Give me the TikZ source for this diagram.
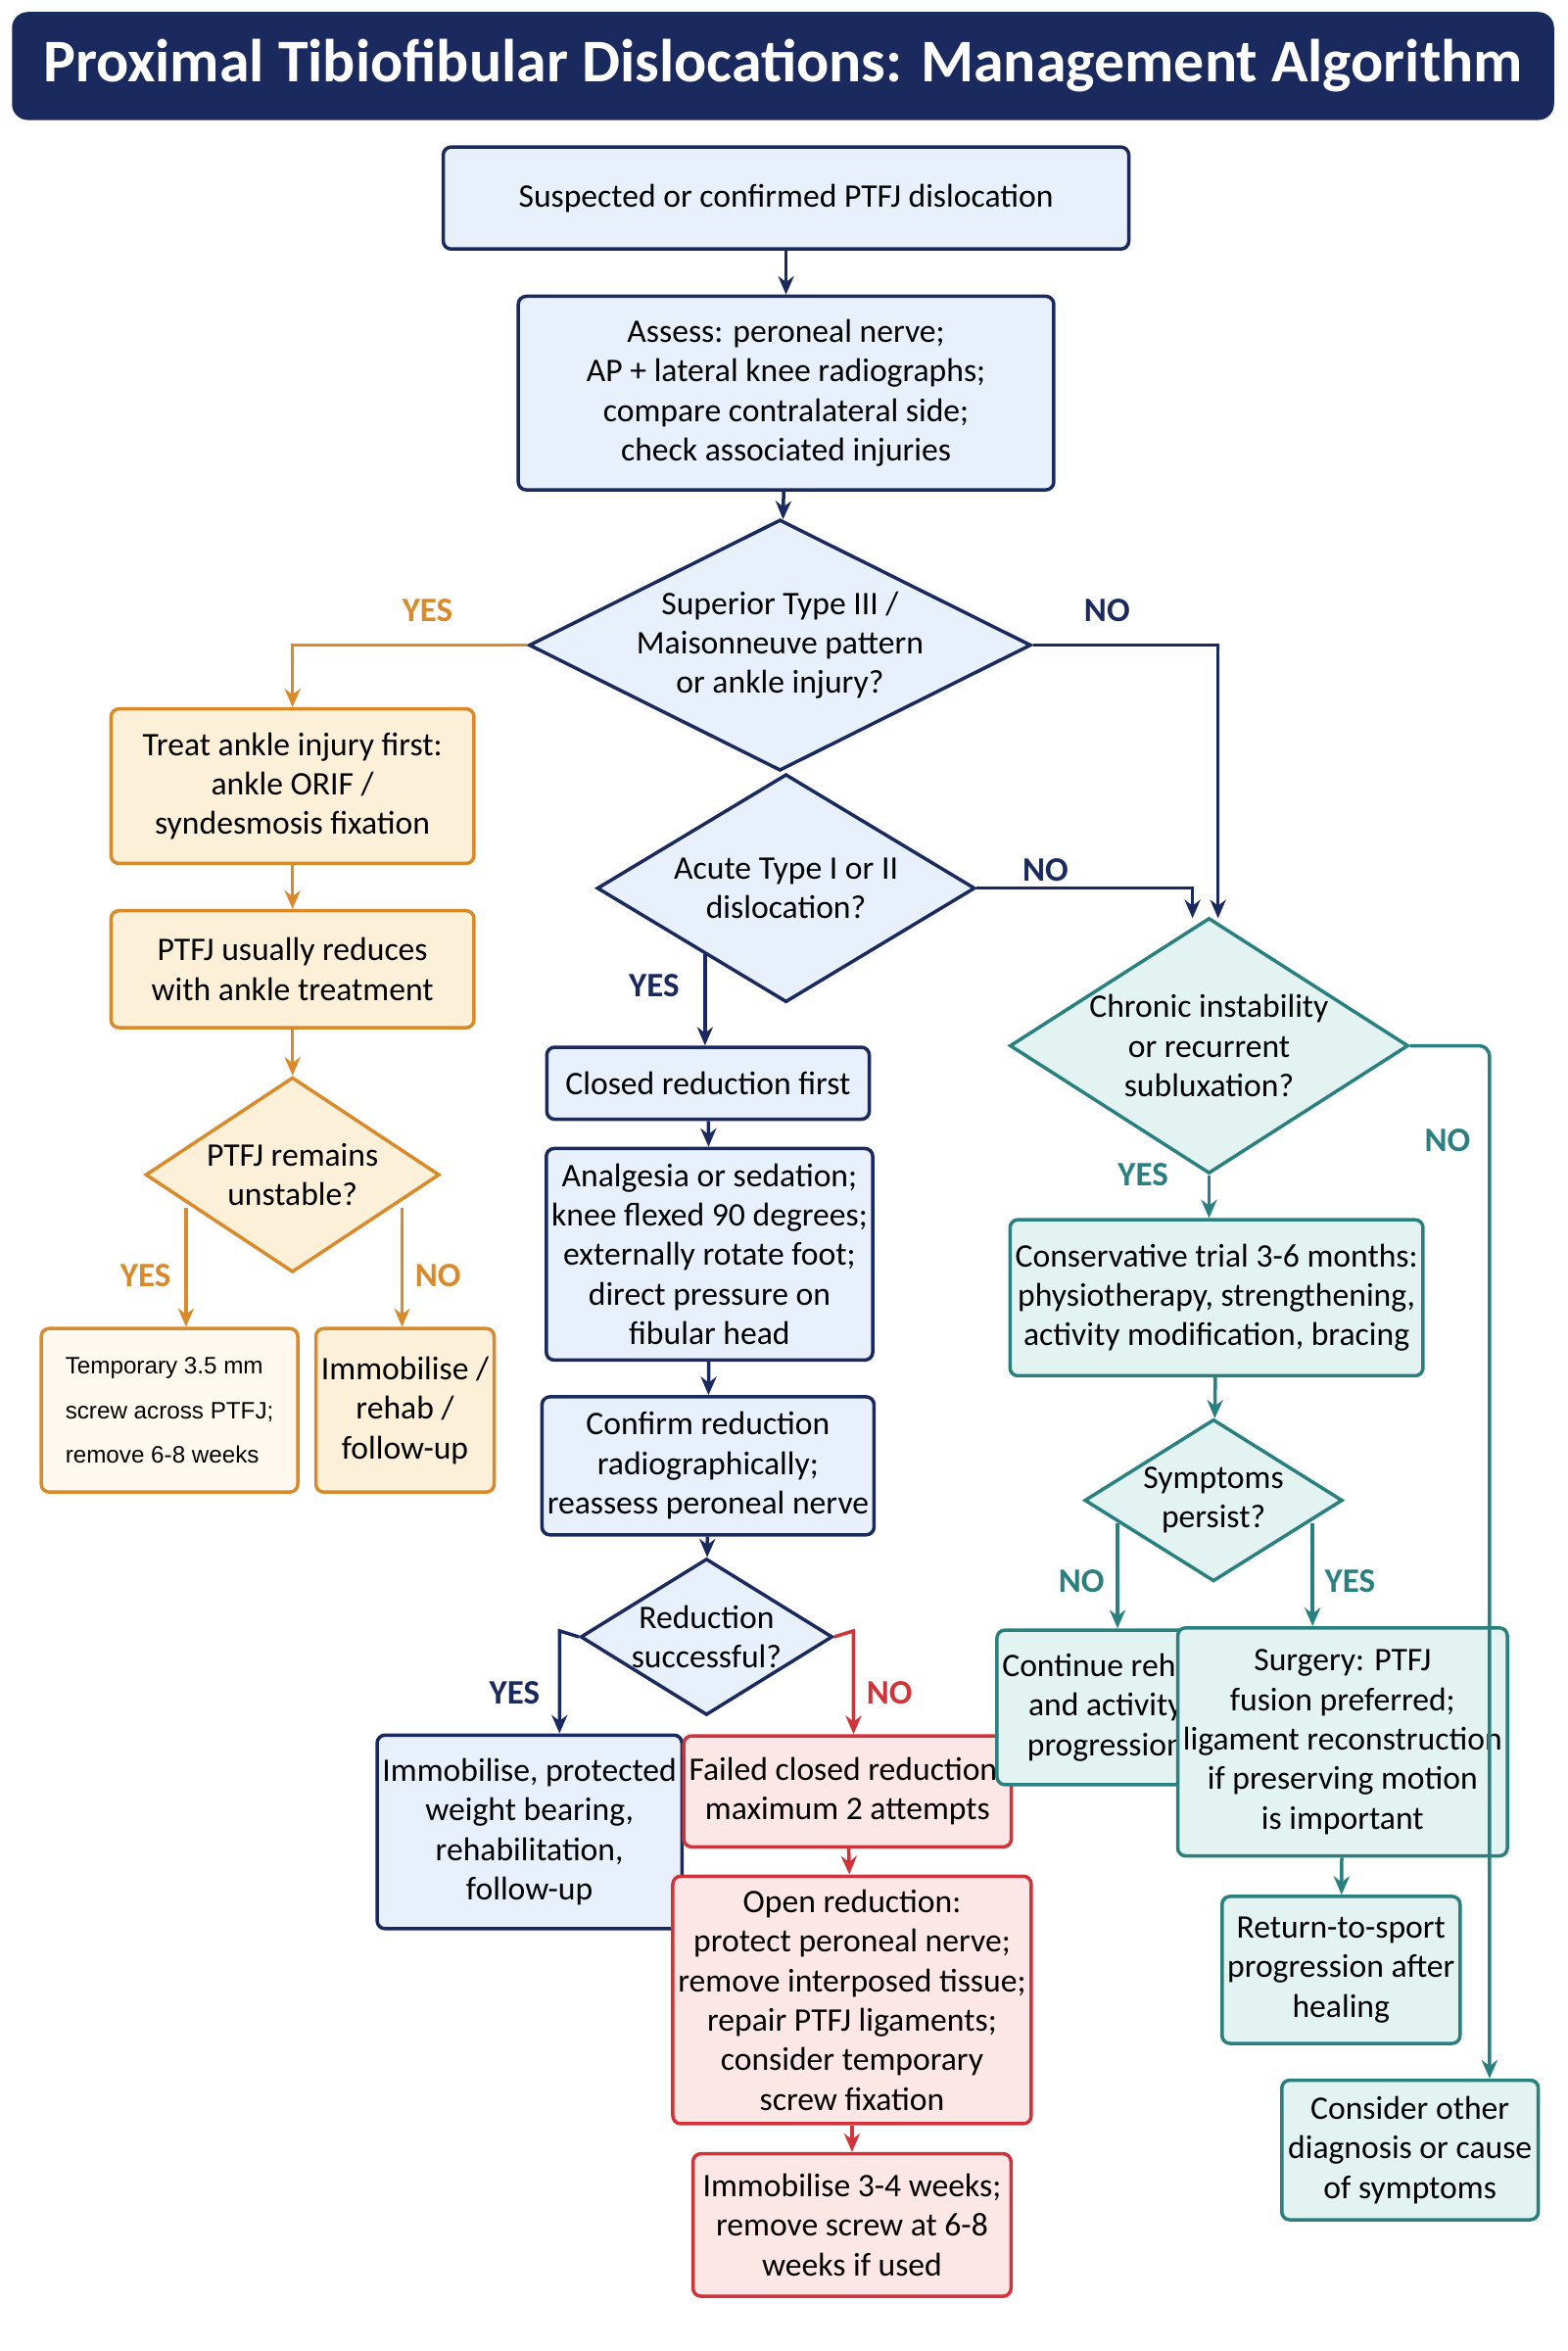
\documentclass[tikz,border=0pt]{standalone}
\usepackage{fontspec}
\setmainfont{Carlito}
\newfontfamily\arialfont{Liberation Sans}
\usetikzlibrary{positioning,shapes.geometric,arrows.meta}
\definecolor{navy}{HTML}{1B2A5E}
\definecolor{blfill}{HTML}{E7F0FB}
\definecolor{orline}{HTML}{D98A2B}
\definecolor{orfill}{HTML}{FDF0D8}
\definecolor{tlline}{HTML}{2A7F7F}
\definecolor{tlfill}{HTML}{E3F3F1}
\definecolor{rdline}{HTML}{D0343A}
\definecolor{rdfill}{HTML}{FDE6E6}
\tikzset{
  sz/.style 2 args={minimum width=#1*0.02cm, minimum height=#2*0.02cm},
  box/.style={rectangle, rounded corners=3pt, line width=1.3pt, align=center,
    font=\fontsize{12.5}{15}\selectfont, inner sep=2pt},
  blbox/.style={box, draw=navy, fill=blfill},
  orbox/.style={box, draw=orline, fill=orfill},
  tlbox/.style={box, draw=tlline, fill=tlfill},
  rdbox/.style={box, draw=rdline, fill=rdfill},
  dia/.style={diamond, line width=1.3pt, align=center, inner sep=0pt,
    font=\fontsize{12.5}{15}\selectfont},
  bldia/.style={dia, draw=navy, fill=blfill},
  ordia/.style={dia, draw=orline, fill=orfill},
  tldia/.style={dia, draw=tlline, fill=tlfill},
  arr/.style={line width=1.3pt, -{Stealth[length=7pt,width=6pt]}},
  lab/.style={font=\bfseries\fontsize{13}{15}\selectfont},
}
\begin{document}
\begin{tikzpicture}[x=0.02cm,y=-0.02cm]
  \useasboundingbox (0,0) rectangle (1045,1567);
  \fill[white] (0,0) rectangle (1045,1567);
  % title
  \node[fill=navy, rounded corners=6pt, text=white, font=\bfseries\fontsize{23}{26}\selectfont,
    sz={1028}{72}] (title) at (522,44) {Proximal Tibiofibular Dislocations: Management Algorithm};

  % main column
  \node[blbox, sz={457}{68}] (susp) at (524,132) {Suspected or confirmed PTFJ dislocation};
  \node[blbox, sz={357}{129}] (assess) at (524,262)
    {Assess: peroneal nerve;\\AP + lateral knee radiographs;\\compare contralateral side;\\check associated injuries};
  \node[bldia, sz={306}{152}, aspect=2] (sup) at (520,430)
    {Superior Type III /\\Maisonneuve pattern\\or ankle injury?};
  \node[bldia, sz={252}{152}, aspect=1.66] (acute) at (524,592) {Acute Type I or II\\dislocation?};
  \node[blbox, sz={215}{48}] (closed) at (472,722) {Closed reduction first};
  \node[blbox, sz={217}{141}] (analg) at (473,836)
    {Analgesia or sedation;\\knee flexed 90 degrees;\\externally rotate foot;\\direct pressure on\\fibular head};
  \node[blbox, sz={219}{92}] (confirm) at (472,977)
    {Confirm reduction\\radiographically;\\reassess peroneal nerve};
  \node[bldia, sz={168}{104}, aspect=1.6] (redsucc) at (471,1091) {Reduction\\successful?};
  \node[blbox, sz={188}{129}] (immprot) at (353,1221)
    {Immobilise, protected\\weight bearing,\\rehabilitation,\\follow-up};
  \node[rdbox, sz={190}{74}] (failed) at (565,1194) {Failed closed reduction:\\maximum 2 attempts};
  \node[rdbox, sz={212}{165}] (open) at (568,1333)
    {Open reduction:\\protect peroneal nerve;\\remove interposed tissue;\\repair PTFJ ligaments;\\consider temporary\\screw fixation};
  \node[rdbox, sz={212}{95}] (imm34) at (568,1483)
    {Immobilise 3-4 weeks;\\remove screw at 6-8\\weeks if used};

  % ankle branch
  \node[orbox, sz={242}{103}] (ankle) at (195,524) {Treat ankle injury first:\\ankle ORIF /\\syndesmosis fixation};
  \node[orbox, sz={242}{78}] (usually) at (195,646) {PTFJ usually reduces\\with ankle treatment};
  \node[ordia, sz={196}{130}, aspect=1.5] (unstable) at (195,783) {PTFJ remains\\unstable?};
  \node[orbox, fill=white!60!orfill, sz={171}{109}, align=left,
    font=\arialfont\fontsize{9}{17}\selectfont] (screw) at (113,940)
    {Temporary 3.5 mm\\screw across PTFJ;\\remove 6-8 weeks};
  \node[orbox, sz={113}{109}] (rehab) at (270,940) {Immobilise /\\rehab /\\follow-up};

  % chronic branch
  \node[tldia, sz={244}{156}, aspect=1.56] (chronic) at (806,697)
    {Chronic instability\\or recurrent\\subluxation?};
  \node[tlbox, sz={267}{104}] (conserv) at (811,865)
    {Conservative trial 3-6 months:\\physiotherapy, strengthening,\\activity modification, bracing};
  \node[tldia, sz={172}{108}, aspect=1.6] (persist) at (809,1000) {Symptoms\\persist?};
  \node[tlbox, sz={123}{103}] (contin) at (737,1138) {Continue rehab\\and activity\\progression};
  \node[tlbox, sz={154}{152}] (surgery) at (895,1161)
    {Surgery: PTFJ\\fusion preferred;\\ligament reconstruction\\if preserving motion\\is important};
  \node[tlbox, sz={152}{98}] (rts) at (894,1313) {Return-to-sport\\progression after\\healing};
  \node[tlbox, sz={171}{93}] (other) at (940,1433) {Consider other\\diagnosis or cause\\of symptoms};

  % connectors: main
  \draw[arr, navy] (susp) -- (assess);
  \draw[arr, navy] (assess) -- (sup);
  \draw[arr, orline] (sup.west) -| (ankle.north);
  \node[lab, text=orline] (supyes) at (285,407) {YES};
  \draw[arr, navy] (sup.east) -| (812,612);
  \node[lab, text=navy] (supno) at (738,407) {NO};
  \draw[arr, navy] (acute.east) -| (795,612);
  \node[lab, text=navy] (acuteno) at (697,580) {NO};
  \draw[arr, navy] (470,636) -- (closed.north -| 470,0);
  \node[lab, text=navy] (acuteyes) at (436,657) {YES};
  \draw[arr, navy] (closed) -- (analg);
  \draw[arr, navy] (analg) -- (confirm);
  \draw[arr, navy] (confirm) -- (redsucc);
  \draw[arr, navy] (redsucc.west) -- (373,1087) -- (immprot.north -| 373,0);
  \node[lab, text=navy] (redyes) at (343,1128) {YES};
  \draw[arr, rdline] (redsucc.east) -- (569,1087) -- (failed.north -| 569,0);
  \node[lab, text=rdline] (redno) at (593,1128) {NO};
  \draw[arr, rdline] (failed) -- (open);
  \draw[arr, rdline] (open) -- (imm34);

  % connectors: ankle
  \draw[arr, orline] (124,805) -- (screw.north -| 124,0);
  \node[lab, text=orline] (unsyes) at (97,850) {YES};
  \draw[arr, orline] (268,805) -- (rehab.north -| 268,0);
  \node[lab, text=orline] (unsno) at (292,850) {NO};
  \draw[arr, orline] (ankle) -- (usually);
  \draw[arr, orline] (usually) -- (unstable);

  % connectors: chronic
  \draw[arr, tlline] (chronic) -- (conserv.north -| chronic);
  \node[lab, text=tlline] (chryes) at (762,783) {YES};
  \draw[arr, tlline, rounded corners=4pt] (chronic.east) -- (993,697) -- (other.north -| 993,0);
  \node[lab, text=tlline] (chrno) at (965,760) {NO};
  \draw[arr, tlline] (conserv) -- (persist);
  \draw[arr, tlline] (745,1015) -- (contin.north -| 745,0);
  \node[lab, text=tlline] (perno) at (721,1054) {NO};
  \draw[arr, tlline] (875,1015) -- (surgery.north -| 875,0);
  \node[lab, text=tlline] (peryes) at (900,1054) {YES};
  \draw[arr, tlline] (surgery) -- (rts);
\end{tikzpicture}
\end{document}
